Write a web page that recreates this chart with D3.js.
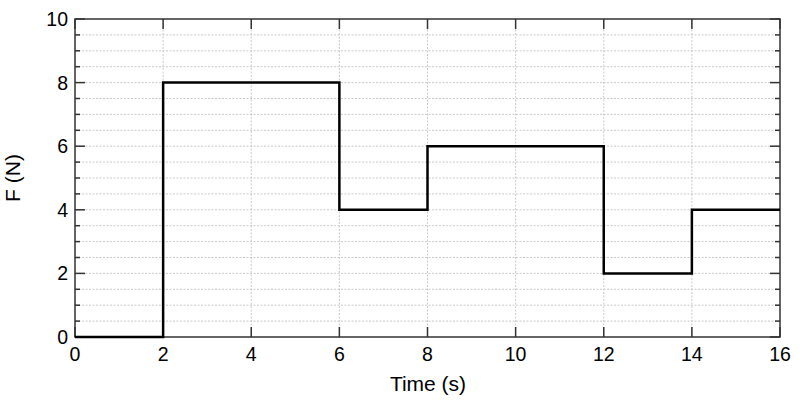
<!DOCTYPE html>
<html>
<head>
<meta charset="utf-8">
<script src="https://cdn.jsdelivr.net/npm/d3@7"></script>
<style>
  body { margin: 0; background: #fff; }
  svg { display: block; font-family: "Liberation Sans", Arial, sans-serif; }
</style>
</head>
<body>
<svg width="800" height="400"></svg>
<script>
// step edges (s) and force on each interval (N)
var timeEdges = [0, 2, 6, 8, 12, 14, 16];
var forceVals = [0, 8, 4, 6, 2, 4];
var xTicks = [0, 2, 4, 6, 8, 10, 12, 14, 16];
var yTicks = [0, 2, 4, 6, 8, 10];
var yMinor = d3.range(0, 10.01, 0.5);

var pLeft = 75, pRight = 780, pTop = 19, pBottom = 337;

var x = d3.scaleLinear().domain([0, 16]).range([pLeft, pRight]);
var y = d3.scaleLinear().domain([0, 10]).range([pBottom, pTop]);

var svg = d3.select('svg');

// grid
svg.append('g').selectAll('line').data(yMinor.filter(v => v > 0 && v < 10))
    .enter().append('line')
    .attr('x1', pLeft).attr('x2', pRight)
    .attr('y1', d => y(d)).attr('y2', d => y(d))
    .attr('stroke', '#bdbdbd').attr('stroke-width', 0.8)
    .attr('stroke-dasharray', '2,1.5');
svg.append('g').selectAll('line').data(xTicks.filter(v => v > 0 && v < 16))
    .enter().append('line')
    .attr('x1', d => x(d)).attr('x2', d => x(d))
    .attr('y1', pTop).attr('y2', pBottom)
    .attr('stroke', '#bdbdbd').attr('stroke-width', 0.8)
    .attr('stroke-dasharray', '2,1.5');

// ticks (inward, all four sides)
var tk = svg.append('g').attr('stroke', '#333').attr('stroke-width', 1.5);
yMinor.forEach(function(v) {
    var len = (v % 2 === 0) ? 10 : 5;
    tk.append('line').attr('x1', pLeft).attr('x2', pLeft + len).attr('y1', y(v)).attr('y2', y(v));
    tk.append('line').attr('x1', pRight).attr('x2', pRight - len).attr('y1', y(v)).attr('y2', y(v));
});
xTicks.forEach(function(v) {
    tk.append('line').attr('x1', x(v)).attr('x2', x(v)).attr('y1', pBottom).attr('y2', pBottom - 10);
    tk.append('line').attr('x1', x(v)).attr('x2', x(v)).attr('y1', pTop).attr('y2', pTop + 10);
});

// frame
svg.append('rect')
    .attr('x', pLeft).attr('y', pTop)
    .attr('width', pRight - pLeft).attr('height', pBottom - pTop)
    .attr('fill', 'none').attr('stroke', '#333').attr('stroke-width', 1.5);

// step line
var pts = [];
forceVals.forEach(function(f, i) {
    pts.push([timeEdges[i], f]);
    pts.push([timeEdges[i + 1], f]);
});
svg.append('path')
    .datum(pts)
    .attr('d', d3.line().x(d => x(d[0])).y(d => y(d[1])))
    .attr('fill', 'none').attr('stroke', '#000').attr('stroke-width', 2.5);

// tick labels
svg.append('g').selectAll('text').data(xTicks).enter().append('text')
    .attr('x', d => x(d)).attr('y', 361)
    .attr('text-anchor', 'middle').attr('font-size', 19.5)
    .text(d => d);
svg.append('g').selectAll('text').data(yTicks).enter().append('text')
    .attr('x', 68).attr('y', d => y(d) + 7)
    .attr('text-anchor', 'end').attr('font-size', 19.5)
    .text(d => d);

// axis titles
svg.append('text')
    .attr('x', 428).attr('y', 391)
    .attr('text-anchor', 'middle').attr('font-size', 21)
    .text('Time (s)');
svg.append('text')
    .attr('transform', 'translate(20,' + ((pTop + pBottom) / 2) + ') rotate(-90)')
    .attr('text-anchor', 'middle').attr('font-size', 21)
    .text('F (N)');
</script>
</body>
</html>
